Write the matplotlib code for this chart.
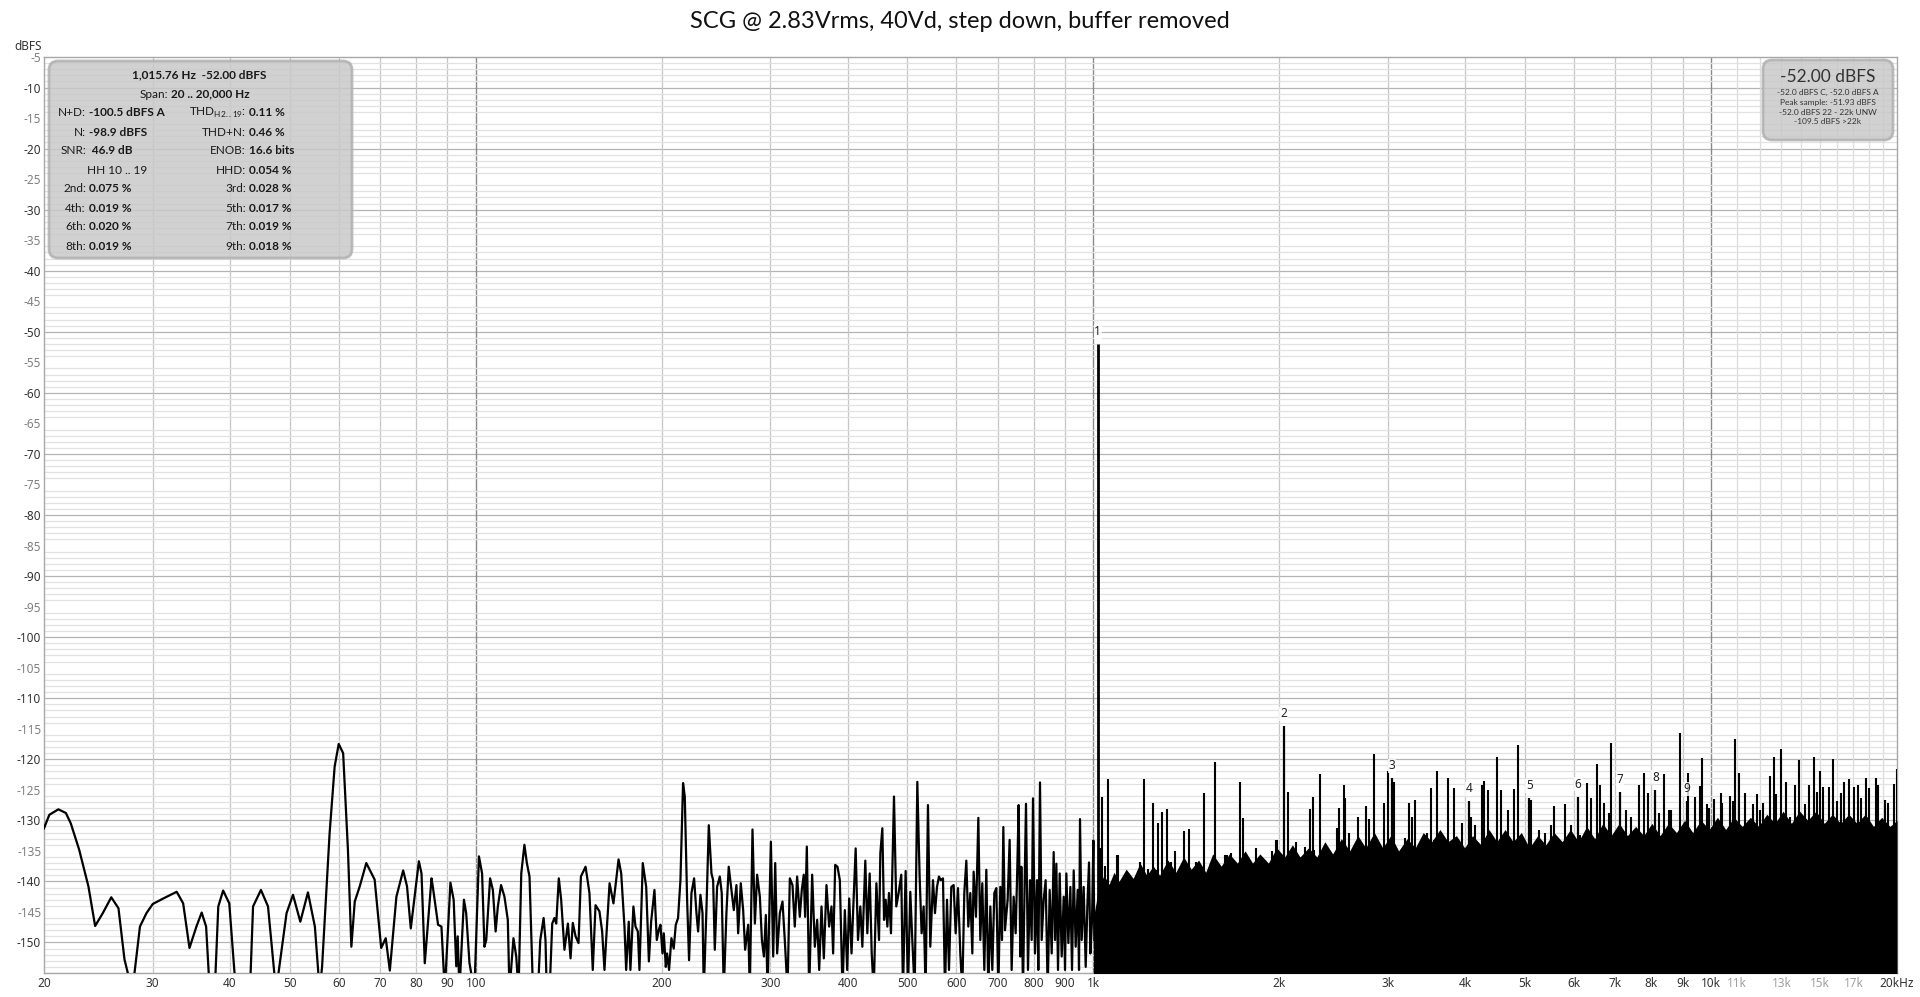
import matplotlib.pyplot as plt
import numpy as np
from matplotlib.patches import FancyBboxPatch
from matplotlib.ticker import FixedLocator, FixedFormatter

plt.rcParams['font.family'] = ['Noto Sans', 'DejaVu Sans']

W, H = 1920, 997
title = 'SCG @ 2.83Vrms, 40Vd, step down, buffer removed'

# spectrum trace (Hz, dBFS); -158 = below the floor of the plot
trace_a_freq = [20.0, 20.4, 21.1, 21.7, 22.1, 22.8, 23.6, 24.2, 24.9, 25.7, 26.4, 27.0, 27.8, 28.6, 29.3,
                30.0, 31.2, 32.8, 33.6, 34.4, 35.3, 36.0, 36.6, 37.1, 37.8, 38.3, 39.0, 39.9, 40.9, 43.1,
                43.6, 44.9, 46.1, 47.5, 48.1, 49.4, 50.6, 52.0, 53.5, 54.9, 55.9, 56.4, 58.0, 59.1, 60.0,
                61.0, 62.1, 62.9, 63.7, 64.9, 66.5, 68.6, 70.3, 71.5, 72.6, 74.4, 76.3, 77.4, 78.5, 80.9,
                81.7, 82.7, 84.8, 85.2, 86.9, 88.0, 89.1, 91.0, 92.1, 93.0, 93.5, 94.1, 95.7, 96.5, 97.7, 99.5]
trace_a_db = [-131.3, -129.1, -128.2, -128.8, -130.5, -134.8, -140.8, -147.3, -145.2, -142.6, -144.4, -152.8, -158, -147.4, -145.2,
              -143.7, -142.8, -141.7, -143.6, -150.9, -147.4, -145.1, -147.4, -158, -158, -144.1, -141.5, -143.6, -158, -158,
              -144.1, -141.4, -144.1, -158, -153.9, -145.2, -142.2, -146.6, -141.8, -147.4, -158, -153.9, -132.1, -121.2, -117.5,
              -119.0, -134.8, -150.7, -143.3, -140.8, -137.0, -139.7, -150.9, -149.3, -154.6, -142.5, -138.2, -140.8, -147.7, -136.7,
              -138.7, -153.4, -139.5, -140.8, -147.1, -147.4, -158, -140.2, -143.0, -153.9, -149.0, -158, -143.0, -145.2, -153.4, -158]

trace_b_freq = [101.2, 102.4, 103.3, 104.0, 105.5, 106.6, 107.7, 108.6, 109.9, 111.3, 112.7, 113.4, 115.1, 116.3, 117.3,
                118.5, 119.9, 121.0, 122.2, 123.8, 126.1, 127.2, 128.8, 129.7, 130.3, 131.7, 133.0, 134.1, 135.0, 136.3,
                137.5, 139.2, 141.0, 142.4, 143.6, 145.1, 146.7, 148.0, 150.6, 152.8, 154.7, 156.3, 158.6, 160.2, 161.6,
                162.6, 164.7, 167.1, 170.3, 172.0, 174.1, 175.2, 176.9, 178.0, 180.0, 181.4, 183.0, 184.1, 186.4, 188.8,
                190.7, 192.3, 194.7, 196.4, 197.9, 199.1]
trace_b_db = [-135.9, -138.7, -150.7, -149.6, -139.5, -141.4, -148.2, -144.1, -140.6, -142.5, -146.3, -158, -149.3, -152.3, -158,
              -138.7, -134.0, -137.0, -139.2, -158, -158, -149.6, -146.0, -149.6, -158, -158, -146.9, -146.0, -146.9, -139.5,
              -143.0, -151.2, -146.9, -152.6, -146.8, -149.0, -150.1, -139.2, -137.6, -141.9, -154.5, -143.9, -144.9, -148.2, -154.5,
              -149.6, -140.3, -143.6, -136.4, -138.7, -147.4, -154.5, -146.6, -154.5, -144.1, -147.4, -148.2, -154.5, -137.0, -140.9,
              -153.1, -146.6, -141.4, -149.6, -147.9, -147.1]

trace_c_freq = [200.6, 201.6, 203.1, 204.1, 205.6, 207.4, 209.2, 210.8, 212.6, 214.5, 216.6, 218.0, 219.9, 221.5, 223.5,
                225.7, 227.7, 229.1, 231.1, 232.9, 234.0, 236.4, 238.4, 240.8, 242.3, 243.8, 245.9, 248.4, 250.2, 252.1,
                254.6, 256.8, 259.4, 261.7, 264.3, 266.0, 268.6, 271.0, 273.0, 276.1, 277.8, 280.6, 283.1, 285.5, 288.4,
                290.6, 292.8, 294.9, 296.8, 300.5, 303.1, 305.4, 307.6, 310.7, 313.8, 316.5, 319.7, 322.5, 325.7, 328.5,
                331.4, 334.7, 337.2, 339.7, 341.4, 343.6, 346.6, 350.5, 354.0, 357.1, 359.8, 362.9, 366.1, 369.7, 373.4,
                376.7, 379.0, 381.9, 385.2, 388.6, 392.5, 395.9, 399.4, 402.4, 405.9, 408.4]
trace_c_db = [-151.8, -148.5, -154.0, -151.8, -154.5, -149.3, -151.0, -147.1, -146.0, -139.8, -123.9, -126.1, -143.0, -152.9, -141.9,
              -139.5, -145.2, -148.2, -142.2, -145.2, -158, -144.1, -130.8, -138.7, -139.8, -151.2, -140.9, -139.2, -141.9, -158,
              -145.2, -137.6, -141.4, -144.7, -140.6, -148.5, -140.3, -144.7, -151.2, -147.1, -158, -131.5, -146.9, -138.9, -142.5,
              -149.6, -152.3, -145.5, -158, -133.5, -152.3, -137.0, -151.8, -145.2, -143.3, -149.6, -158, -139.5, -140.6, -147.4,
              -139.2, -145.8, -141.4, -138.9, -145.8, -134.3, -158, -138.9, -150.7, -146.3, -154.5, -144.1, -152.6, -140.6, -147.4,
              -144.1, -151.8, -137.3, -137.6, -139.8, -158, -144.7, -154.5, -142.8, -151.8, -144.7]

trace_d_freq = [412.2, 415.8, 419.4, 422.6, 427.3, 430.5, 434.3, 437.6, 440.9, 445.3, 449.7, 451.9, 455.3, 458.2, 461.0,
                463.9, 466.7, 470.2, 475.5, 479.6, 483.8, 488.6, 491.7, 496.6, 500.9, 505.3, 509.1, 513.6, 518.7, 523.2,
                527.1, 531.1, 535.0, 539.7, 544.4, 549.9, 554.0, 558.2, 562.3, 565.8, 570.8, 575.1, 579.4, 583.7, 588.8,
                593.9, 598.4, 603.6, 608.9, 613.4, 618.0, 622.7, 627.3, 632.0, 636.8, 639.9, 645.5, 651.2, 656.0, 660.9,
                665.9, 670.9, 675.9, 681.0, 686.0, 691.2, 696.4, 701.6, 706.8, 711.2, 714.8, 719.2, 726.4, 731.8, 737.3,
                742.8, 748.4, 753.1, 756.8, 761.5, 764.4, 769.1, 773.9, 777.8, 783.6, 789.5, 794.4, 798.4, 804.3, 810.4,
                814.4, 819.5, 824.6, 830.8, 837.0, 843.3, 849.6, 856.0, 862.4, 866.7, 871.0, 876.4, 881.9, 888.5, 895.2,
                899.6, 904.1, 910.9, 917.7, 923.4, 929.2, 936.1, 943.1, 947.8, 951.3, 957.3, 964.4, 971.7, 977.7, 983.8,
                988.7, 994.9, 999.9, 1003.6]
trace_d_db = [-134.6, -149.6, -144.1, -150.7, -136.6, -148.5, -138.7, -151.8, -158, -140.3, -149.6, -135.4, -131.3, -146.3, -143.0,
              -147.4, -141.9, -148.5, -126.1, -144.1, -141.9, -138.9, -158, -138.3, -158, -141.7, -149.6, -158, -123.7, -139.2,
              -148.5, -144.1, -158, -127.5, -150.7, -139.8, -145.2, -140.9, -139.2, -139.8, -139.5, -158, -143.0, -154.5, -140.9,
              -140.6, -148.5, -141.1, -151.8, -158, -141.9, -136.6, -147.4, -141.9, -151.8, -138.4, -145.8, -129.6, -149.6, -140.3,
              -154.5, -138.1, -158, -144.1, -154.5, -141.9, -141.1, -158, -140.9, -149.6, -131.1, -148.0, -143.0, -133.2, -154.5,
              -142.5, -148.5, -137.6, -127.5, -152.3, -137.6, -158, -140.3, -127.3, -154.5, -139.8, -149.6, -126.4, -151.8, -139.8,
              -154.5, -123.8, -149.6, -143.0, -139.8, -158, -141.4, -151.8, -135.2, -149.6, -137.1, -154.5, -138.7, -152.3, -142.5,
              -154.5, -138.7, -150.1, -140.9, -154.5, -138.2, -150.7, -141.4, -154.5, -129.8, -149.6, -140.9, -154.0, -144.1, -136.9,
              -151.8, -146.3, -133.3, -149.6]

# spikes above 1 kHz (peak levels)
spike_lo_freq = [1024, 1034, 1043, 1055, 1077, 1094, 1098, 1118, 1144, 1168, 1189, 1208, 1227, 1251, 1263, 1273, 1293,
                 1314, 1323, 1334, 1356, 1376, 1402, 1426, 1441, 1466, 1484, 1510, 1533, 1552, 1572, 1596, 1612, 1636,
                 1648, 1668, 1699, 1725, 1747, 1775, 1804, 1831, 1859, 1879, 1912, 1944, 1973, 1985, 2068, 2131, 2198,
                 2242, 2264]
spike_lo_db = [-134.6, -126.1, -137.5, -123.2, -140.4, -135.7, -135.7, -140.4, -140.0, -139.6, -136.8, -123.2, -137.9,
               -127.1, -138.2, -130.4, -128.6, -128.2, -136.8, -136.8, -135.0, -140.4, -131.8, -131.4, -138.9, -136.8,
               -138.9, -125.6, -138.9, -139.3, -120.5, -138.9, -140.4, -135.7, -135.7, -135.4, -138.2, -123.8, -129.6,
               -139.6, -137.1, -134.6, -137.1, -136.8, -137.1, -135.0, -133.2, -133.2, -125.4, -133.6, -134.3, -128.2,
               -126.1]

spike_mid_freq = [2280, 2329, 2369, 2441, 2481, 2502, 2543, 2559, 2591, 2640, 2680, 2700, 2764, 2798, 2844, 2879, 2959,
                  2996, 3064, 3122, 3192, 3240, 3281, 3322, 3405, 3469, 3517, 3557, 3601, 3700, 3752, 3836, 3889, 3953,
                  4093, 4154, 4206, 4259, 4291, 4355, 4421, 4510, 4572, 4693, 4793, 4871, 4975, 5113, 5261, 5394, 5509,
                  5564, 5669, 5812, 5942, 6145, 6307, 6386, 6538, 6620, 6703, 6829, 6897, 7294, 7423, 7657, 7801, 7899,
                  8229, 8405, 8542, 8627, 8921, 9170, 9435]
spike_mid_db = [-134.8, -122.4, -137.6, -136.2, -131.3, -128.0, -124.2, -126.4, -132.1, -135.1, -129.4, -134.0, -127.7,
                -129.7, -119.2, -134.0, -127.2, -121.9, -123.7, -136.5, -132.9, -127.1, -129.4, -126.7, -134.6, -132.1,
                -124.7, -133.2, -121.9, -134.3, -123.0, -124.7, -134.3, -130.5, -129.4, -130.7, -135.1, -124.2, -123.5,
                -125.0, -133.2, -119.7, -125.0, -128.3, -124.9, -117.7, -135.4, -126.7, -131.6, -132.1, -130.7, -127.6,
                -133.7, -127.3, -130.7, -132.4, -123.9, -126.4, -120.7, -124.2, -127.1, -128.8, -117.4, -128.3, -129.4,
                -124.2, -122.3, -125.6, -128.8, -122.4, -128.3, -128.3, -115.7, -122.3, -126.1]

spike_hi_freq = [9292, 9408, 9585, 9681, 9852, 9938, 10125, 10227, 10368, 10420, 10550, 10750, 10858, 10951, 11117,
                 11228, 11369, 11483, 11685, 11861, 11980, 12146, 12283, 12453, 12641, 12752, 12993, 13238, 13421, 13674,
                 13880, 14194, 14408, 14662, 14827, 15032, 15164, 15527, 15780, 15977, 16238, 16442, 16710, 17025, 17303,
                 17520, 17806, 18029, 18508, 18647, 19139, 19330, 19793, 19967]
spike_hi_db = [-132.9, -131.5, -124.4, -119.8, -127.3, -127.9, -126.5, -131.5, -125.6, -127.2, -132.1, -126.0, -126.8,
               -116.7, -122.2, -132.1, -125.6, -131.0, -127.3, -125.7, -128.3, -127.1, -134.8, -122.7, -119.7, -125.7,
               -118.4, -123.8, -129.5, -124.2, -120.2, -127.3, -124.2, -119.7, -125.3, -121.9, -124.6, -124.5, -120.0,
               -126.8, -125.5, -123.8, -123.3, -124.6, -124.2, -126.4, -123.1, -124.7, -123.1, -124.2, -126.7, -127.1,
               -124.0, -121.6]

# ragged top edge of the solid noise floor above 1 kHz
floor_freq = [1000, 1020, 1040, 1060, 1080, 1100, 1130, 1160, 1190, 1220,
              1250, 1280, 1320, 1360, 1400, 1440, 1480, 1520, 1560, 1610,
              1660, 1710, 1760, 1810, 1860, 1920, 1980, 2040, 2100, 2160,
              2230, 2300, 2370, 2440, 2520, 2600, 2680, 2760, 2850, 2940,
              3030, 3120, 3220, 3320, 3420, 3530, 3640, 3750, 3870, 3990,
              4110, 4240, 4370, 4500, 4640, 4780, 4930, 5080, 5240, 5400,
              5570, 5740, 5920, 6100, 6290, 6480, 6680, 6890, 7100, 7320,
              7550, 7780, 8020, 8270, 8530, 8790, 9060, 9340, 9630, 9930,
              10240, 10560, 10890, 11230, 11580, 11940, 12310, 12690, 13080, 13490,
              13910, 14340, 14790, 15250, 15720, 16210, 16710, 17230, 17770, 18320,
              18890, 19480, 20000]
floor_db = [-146, -141, -139, -140.5, -138.5, -140, -138, -139.5, -137, -139,
            -137.5, -139, -136.5, -138.5, -136, -138, -136.5, -138.5, -135.5, -137.5,
            -135.5, -137, -135, -137, -135.5, -137, -134.5, -136, -134, -136,
            -134.5, -136, -133.5, -135.5, -133, -135, -132.5, -134.5, -132, -134.5,
            -132.5, -135, -133, -134.5, -132, -133.5, -131.5, -133.5, -132.5, -134.5,
            -132.5, -134, -131.5, -133.5, -131.5, -133.5, -132, -134.5, -132.5, -134,
            -132, -133.5, -131.5, -133.5, -131, -133, -130.5, -132.5, -130.5, -132.5,
            -131, -132.5, -130.5, -132.5, -130.5, -132, -130, -132, -130, -131.5,
            -129.5, -131.5, -129.5, -131, -129.5, -131, -129, -130.5, -128.5, -130.5,
            -128.5, -130, -128.5, -130.5, -129, -130.5, -129, -130.5, -129, -131,
            -129.5, -131, -130]

# fundamental and harmonics
harm_label = ['1', '2', '3', '4', '5', '6', '7', '8', '9']
harm_freq = [1015.76, 2031.5, 3047.3, 4063.0, 5078.8, 6094.6, 7110.3, 8126.1, 9141.8]
harm_db = [-52.0, -114.6, -123.1, -126.9, -126.4, -126.1, -125.3, -125.0, -126.9]

x_ticks = [20, 30, 40, 50, 60, 70, 80, 90, 100, 200, 300, 400, 500, 600, 700, 800, 900, 1000, 2000, 3000, 4000,
           5000, 6000, 7000, 8000, 9000, 10000, 11000, 13000, 15000, 17000, 20000]
x_labels = ['20', '30', '40', '50', '60', '70', '80', '90', '100', '200', '300', '400', '500', '600', '700', '800',
            '900', '1k', '2k', '3k', '4k', '5k', '6k', '7k', '8k', '9k', '10k', '11k', '13k', '15k', '17k', '20kHz']
faint_labels = ['11k', '13k', '15k', '17k']
grid_dark = [100, 1000, 10000]
grid_light = [11000, 12000, 13000, 14000, 15000, 16000, 17000, 18000, 19000]

fig = plt.figure(figsize=(W / 100, H / 100), dpi=100)
ax = fig.add_axes([44 / W, 24 / H, 1853 / W, 916 / H])
ax.set_xscale('log')
ax.set_xlim(20, 20000)
ax.set_ylim(-155, -5)

# grid
ax.set_yticks(np.arange(-155, -4, 1), minor=True)
ax.grid(axis='y', which='minor', color='#e2e2e2', lw=0.9, zorder=0)
for v in range(-150, -4, 10):
    ax.axhline(v, color='#b4b4b4', lw=0.9, zorder=0.5)
for f in x_ticks[1:-1]:
    if f in grid_dark:
        ax.axvline(f, color='#8a8a8a', lw=1.0, zorder=0.6)
    elif f not in grid_light:
        ax.axvline(f, color='#c6c6c6', lw=0.9, zorder=0.5)
for f in grid_light:
    ax.axvline(f, color='#dcdcdc', lw=0.9, zorder=0.5)

# data
trace_freq = trace_a_freq + trace_b_freq + trace_c_freq + trace_d_freq
trace_db = trace_a_db + trace_b_db + trace_c_db + trace_d_db
ax.plot(trace_freq, trace_db, color='black', lw=1.6, zorder=3)
ax.fill_between(floor_freq, -160, floor_db, color='black', lw=0, zorder=3)
spike_freq = spike_lo_freq + spike_mid_freq + spike_hi_freq
spike_db = spike_lo_db + spike_mid_db + spike_hi_db
ax.vlines(spike_freq, -150, spike_db, color='black', lw=1.5, zorder=3)
ax.vlines(harm_freq[1:], -150, harm_db[1:], color='black', lw=1.6, zorder=3)
ax.vlines(harm_freq[:1], -150, harm_db[:1], color='black', lw=2.0, zorder=3)
for lab, f, d in zip(harm_label, harm_freq, harm_db):
    ax.annotate(lab, (f, d), xytext=(0, 9), textcoords='offset points', ha='center', va='center',
                fontsize=8.5, color='#222222', zorder=4,
                bbox=dict(boxstyle='square,pad=0.05', fc='white', ec='none', alpha=0.8))

# axes styling
ax.xaxis.set_major_locator(FixedLocator(x_ticks))
ax.xaxis.set_major_formatter(FixedFormatter(x_labels))
ax.xaxis.set_minor_locator(FixedLocator([]))
y_ticks = list(range(-150, -4, 5))
ax.set_yticks(y_ticks)
ax.set_yticklabels([str(v) for v in y_ticks])
ax.tick_params(axis='both', which='both', length=0, labelsize=8.5, colors='#333333')
ax.tick_params(axis='x', pad=3)
ax.tick_params(axis='y', pad=2)
for lab in ax.get_xticklabels():
    if lab.get_text() in faint_labels:
        lab.set_color('#a0a0a0')
for lab in ax.get_yticklabels():
    if int(lab.get_text()) % 10 != 0:
        lab.set_color('#808080')
for s in ax.spines.values():
    s.set_color('#a8a8a8')
    s.set_linewidth(1.0)


def fx(x):
    return x / W


def fy(y):
    return 1 - y / H


fig.text(0.5, fy(21), title, ha='center', va='center', fontsize=17, family=['Lato', 'DejaVu Sans'],
         color='#111111')
fig.text(fx(42), fy(47), 'dBFS', ha='right', va='center', fontsize=8.5, color='#333333')

# info boxes
box_style = dict(boxstyle='round,pad=0,rounding_size=9', fc='#c9c9c9', ec='#b0b0b0', lw=2, alpha=0.85,
                 transform=None, zorder=10)
fig.patches.append(FancyBboxPatch((49, H - 258), 303, 197, **box_style))
fig.patches.append(FancyBboxPatch((1763, H - 140), 130, 80, **box_style))

box_font = ['Lato', 'DejaVu Sans']
fs = 8.5
tc = '#1a1a1a'
fig.text(fx(199), fy(75), '1,015.76 Hz  -52.00 dBFS', ha='center', va='center', fontsize=fs,
         weight='bold', color=tc, zorder=11, family=box_font)
fig.text(fx(168), fy(94), 'Span:', ha='right', va='center', fontsize=fs, color=tc, zorder=11, family=box_font)
fig.text(fx(171), fy(94), '20 .. 20,000 Hz', ha='left', va='center', fontsize=fs, weight='bold',
         color=tc, zorder=11, family=box_font)

left_names = ['N+D:', 'N:', 'SNR:', '', '2nd:', '4th:', '6th:', '8th:']
left_vals = ['-100.5 dBFS A', '-98.9 dBFS', ' 46.9 dB', '', '0.075 %', '0.019 %', '0.020 %', '0.019 %']
right_names = [r'THD$_{\mathregular{H2..19}}$:', 'THD+N:', 'ENOB:', 'HHD:', '3rd:', '5th:', '7th:', '9th:']
right_vals = ['0.11 %', '0.46 %', '16.6 bits', '0.054 %', '0.028 %', '0.017 %', '0.019 %', '0.018 %']
row_y = [113, 132, 151, 170, 189, 208, 227, 246]
for i, y in enumerate(row_y):
    fig.text(fx(86), fy(y), left_names[i], ha='right', va='center', fontsize=fs, color=tc, zorder=11,
             family=box_font)
    fig.text(fx(89), fy(y), left_vals[i], ha='left', va='center', fontsize=fs, weight='bold', color=tc,
             zorder=11, family=box_font)
    fig.text(fx(246), fy(y), right_names[i], ha='right', va='center', fontsize=fs, color=tc, zorder=11,
             family=box_font)
    fig.text(fx(249), fy(y), right_vals[i], ha='left', va='center', fontsize=fs, weight='bold', color=tc,
             zorder=11, family=box_font)
fig.text(fx(117), fy(170), 'HH 10 .. 19', ha='center', va='center', fontsize=fs, color=tc, zorder=11,
         family=box_font)

fig.text(fx(1828), fy(77), '-52.00 dBFS', ha='center', va='center', fontsize=12.5, color='#333333', zorder=11,
         family=box_font)
level_lines = ['-52.0 dBFS C, -52.0 dBFS A', 'Peak sample: -51.93 dBFS', '-52.0 dBFS 22 - 22k UNW',
               '-109.5 dBFS >22k']
for i, t in enumerate(level_lines):
    fig.text(fx(1828), fy(92 + 10 * i), t, ha='center', va='center', fontsize=6, color='#333333', zorder=11,
             family=box_font)

fig.savefig('out.png', dpi=100)
